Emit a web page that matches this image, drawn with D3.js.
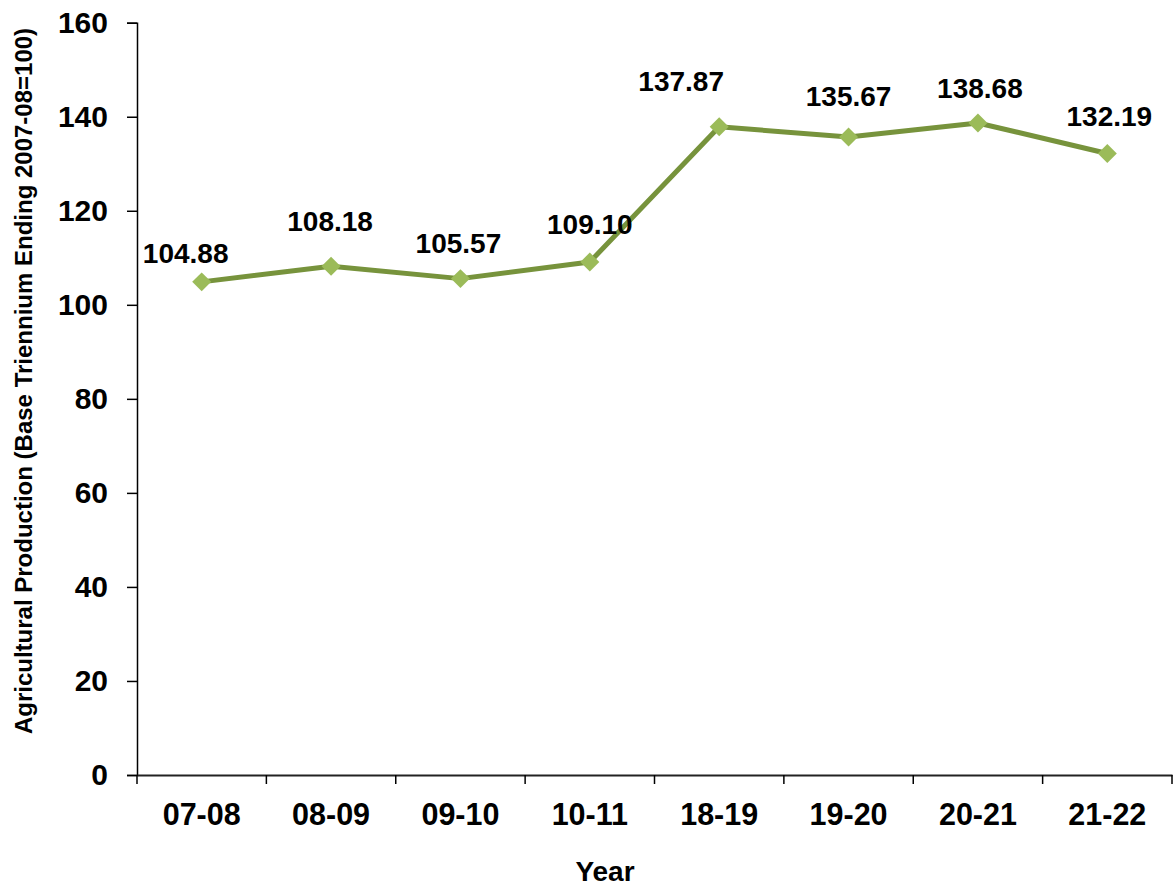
<!DOCTYPE html>
<html>
<head>
<meta charset="utf-8">
<script src="https://cdn.jsdelivr.net/npm/d3@7/dist/d3.min.js"></script>
<style>
  body { margin: 0; background: #fff; }
  text { font-family: Arial, "Liberation Sans", sans-serif; font-weight: bold; fill: #000; }
</style>
</head>
<body>
<div id="chart"></div>
<script>
// chart data
var years = ["07-08", "08-09", "09-10", "10-11", "18-19", "19-20", "20-21", "21-22"];
var production = [104.88, 108.18, 105.57, 109.10, 137.87, 135.67, 138.68, 132.19];
var yTicks = [0, 20, 40, 60, 80, 100, 120, 140, 160];

// label nudges (layout only, px): dx, dy from the marker
var labelDx = [-16, -1, -2, 0, -38, 0, 2, 2];
var labelDy = [-19, -35, -26, -28, -36, -31, -25, -27];

var width = 1176, height = 887;
var plotLeft = 137, plotRight = 1172, plotTop = 22.7, plotBottom = 775;

var svg = d3.select("#chart").append("svg")
            .attr("width", width)
            .attr("height", height);

var x = d3.scaleBand()
          .domain(years)
          .range([plotLeft, plotRight]);

var y = d3.scaleLinear()
          .domain([0, 160])
          .range([plotBottom, plotTop]);

// y axis
var yAxis = svg.append("g")
               .attr("transform", "translate(" + plotLeft + ",0)")
               .call(d3.axisLeft(y).tickValues(yTicks).tickSize(10).tickPadding(19));
yAxis.select(".domain").attr("stroke", "#000").attr("stroke-width", 1.5);
yAxis.selectAll(".tick line").attr("stroke", "#000").attr("stroke-width", 1.5);
yAxis.selectAll(".tick text")
     .attr("font-size", "30px")
     .attr("font-family", "Arial, 'Liberation Sans', sans-serif")
     .attr("font-weight", "bold")
     .attr("fill", "#000");

// x axis
var xAxis = svg.append("g")
               .attr("transform", "translate(0," + plotBottom + ")")
               .call(d3.axisBottom(x).tickSize(0).tickPadding(28));
xAxis.select(".domain").attr("stroke", "#222").attr("stroke-width", 1.8);
xAxis.selectAll(".tick text")
     .attr("font-size", "30.5px")
     .attr("font-family", "Arial, 'Liberation Sans', sans-serif")
     .attr("font-weight", "bold")
     .attr("fill", "#000");

// tick marks between categories
var edges = years.map(function (d) { return x(d); }).concat([x.range()[1]]);
xAxis.selectAll(".edge")
     .data(edges)
     .enter().append("line")
     .attr("class", "edge")
     .attr("x1", function (d) { return d; })
     .attr("x2", function (d) { return d; })
     .attr("y1", 0)
     .attr("y2", 9)
     .attr("stroke", "#000")
     .attr("stroke-width", 1.5);

var points = years.map(function (d, i) {
  return { year: d, value: production[i], i: i };
});

var line = d3.line()
             .x(function (d) { return x(d.year) + x.bandwidth() / 2; })
             .y(function (d) { return y(d.value); });

svg.append("path")
   .datum(points)
   .attr("d", line)
   .attr("fill", "none")
   .attr("stroke", "#77933C")
   .attr("stroke-width", 5)
   .attr("stroke-linejoin", "round");

svg.selectAll(".marker")
   .data(points)
   .enter().append("path")
   .attr("class", "marker")
   .attr("d", d3.symbol().type(d3.symbolSquare).size(180))
   .attr("transform", function (d) {
     return "translate(" + (x(d.year) + x.bandwidth() / 2) + "," + y(d.value) + ") rotate(45)";
   })
   .attr("fill", "#9BBB59");

svg.selectAll(".label")
   .data(points)
   .enter().append("text")
   .attr("class", "label")
   .attr("x", function (d) { return x(d.year) + x.bandwidth() / 2 + labelDx[d.i]; })
   .attr("y", function (d) { return y(d.value) + labelDy[d.i]; })
   .attr("text-anchor", "middle")
   .attr("font-size", "28px")
   .text(function (d) { return d.value.toFixed(2); });

// axis titles
svg.append("text")
   .attr("x", 605)
   .attr("y", 881)
   .attr("text-anchor", "middle")
   .attr("font-size", "28px")
   .text("Year");

svg.append("text")
   .attr("transform", "translate(32,381) rotate(-90)")
   .attr("text-anchor", "middle")
   .attr("font-size", "24px")
   .text("Agricultural Production (Base Triennium Ending 2007-08=100)");
</script>
</body>
</html>
